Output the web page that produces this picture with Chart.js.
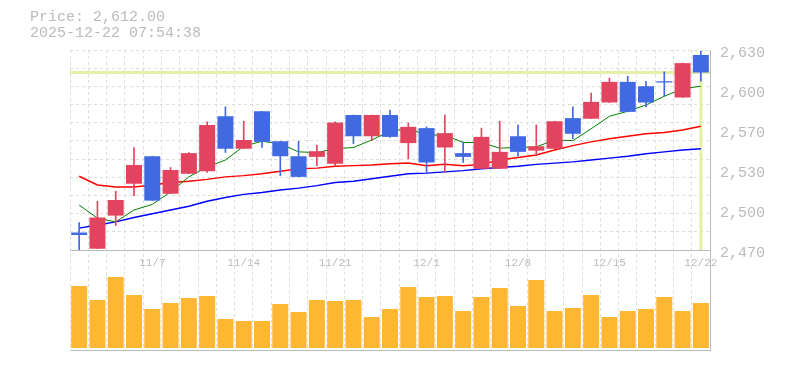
<!DOCTYPE html>
<html>
<head>
<meta charset="utf-8">
<script src="https://cdn.jsdelivr.net/npm/chart.js@4.4.0/dist/chart.umd.min.js"></script>
<style>
  html, body { margin: 0; padding: 0; background: #fff; }
  #wrap { position: relative; width: 785px; height: 370px; }
  #chart { position: absolute; left: 0; top: 0; }
  #info { position: absolute; left: 30px; top: 10px; font: 15px/16px "Liberation Mono", monospace; color: #bbb; white-space: pre; }
</style>
</head>
<body>
<div id="wrap">
  <canvas id="chart" width="785" height="370"></canvas>
  <div id="info">Price: 2,612.00
2025-12-22 07:54:38</div>
</div>
<script>
// daily candles, 10/31 - 12/22
const dates = ['10/31','11/4','11/5','11/6','11/7','11/10','11/11','11/12','11/13','11/14',
  '11/17','11/18','11/19','11/20','11/21','11/25','11/26','11/27','11/28','12/1',
  '12/2','12/3','12/4','12/5','12/8','12/9','12/10','12/11','12/12','12/15',
  '12/16','12/17','12/18','12/19','12/22'];
const opens  = [2484,2471,2497.5,2523,2545,2515,2531,2533,2577,2551,
  2581,2557,2545,2544.5,2539,2578,2561,2578,2555.5,2567.5,
  2552,2547.5,2535,2535,2561,2549.5,2551,2575.5,2575,2588,
  2604.5,2601,2605,2592,2626];
const highs  = [2492,2509,2517,2552,2545,2536,2548,2572.5,2584.5,2573,
  2581,2557,2557,2554,2572.5,2578,2578,2582,2571.5,2568.5,
  2578,2556.5,2567.5,2573,2570,2570,2573,2584.5,2595.5,2607.5,
  2609,2605,2612.5,2619.5,2629];
const lows   = [2470,2471,2489.5,2513.5,2509.5,2515,2531,2532,2548,2551,
  2552,2529.5,2528.5,2537.5,2537,2555,2557.5,2560,2543,2531,
  2532,2540,2535,2535,2545,2545.5,2551,2559,2575,2588,
  2580.5,2584.5,2593,2592,2605];
const closes = [2482,2496,2510,2538,2509.5,2534,2547.5,2570,2551,2558,
  2556.5,2545,2528.5,2549,2572,2561,2578,2560.5,2568.5,2540,
  2563.5,2544.5,2560.5,2548.5,2548.5,2553,2573,2563,2588.5,2604.5,
  2580.5,2588,2604,2619.5,2612];
const volumes = [620,480,710,530,390,450,500,520,290,270,
  270,440,360,480,470,480,310,390,610,510,
  520,370,510,600,420,680,370,400,530,310,
  370,390,510,370,450];
const ma5  = [2506,2495.5,2492.5,2502,2506.5,2516.5,2528.5,2536.5,2542,2553,
  2557,2555,2548.5,2548,2551,2552,2558,2565,2567,2562,
  2562,2556,2556,2551.5,2552,2552.5,2558,2557.5,2567,2577,
  2581,2586,2593,2599,2601];
const ma25 = [2529,2522,2520.5,2520.5,2522,2524,2525,2526.5,2528.5,2529.5,
  2531,2533,2535,2535.5,2537,2537.5,2538,2539,2539.5,2537.5,
  2538.5,2537.5,2538.5,2542,2544,2546,2550,2553.5,2556.5,2559,
  2561,2563,2564,2566,2569];
const ma75 = [2487.5,2490,2492.5,2496,2499,2502,2505,2509,2512,2514.5,
  2516,2518,2519.5,2521.5,2524,2525,2527,2529,2531,2531.5,
  2532.5,2533.5,2535,2536,2537,2538.5,2539.5,2540.5,2542,2543.5,
  2545,2547,2548.5,2550,2551];

const shownDates = ['11/7','11/14','11/21','12/1','12/8','12/15','12/22'];
const yTickValues = [2470,2502,2534,2566,2598,2630];
const yTickLabels = ['2,470','2,500','2,530','2,570','2,600','2,630'];
const yMin = 2470, yMax = 2630;
const lastPrice = 2612;

const gridRows = 11;
const monoFont = '"Liberation Mono", monospace';
const upColor = '#e2445f';
const downColor = '#4169e1';
const candleColors = closes.map((c, i) => c >= opens[i] ? upColor : downColor);

// yellow crosshair on the last price
const priceLine = {
  id: 'priceLine',
  beforeDatasetsDraw(chart) {
    const {ctx, chartArea, scales} = chart;
    const x = scales.x.getPixelForValue(dates.length - 1);
    const y = scales.y.getPixelForValue(lastPrice);
    ctx.save();
    ctx.strokeStyle = '#e4f0a6';
    ctx.lineWidth = 3;
    ctx.beginPath();
    ctx.moveTo(chartArea.left, y);
    ctx.lineTo(chartArea.right, y);
    ctx.moveTo(x, y);
    ctx.lineTo(x, scales.y.bottom);
    ctx.stroke();
    ctx.restore();
  }
};

const fixWidth = (scale) => { scale.width = 75; };

new Chart(document.getElementById('chart'), {
  type: 'bar',
  data: {
    labels: dates,
    datasets: [
      { type: 'bar', data: opens.map((o, i) => [o, closes[i]]), backgroundColor: candleColors,
        barPercentage: 0.875, categoryPercentage: 1, grouped: false, order: 0, xAxisID: 'x', yAxisID: 'y' },
      { type: 'bar', data: lows.map((l, i) => [l, highs[i]]), backgroundColor: candleColors,
        barThickness: 1, grouped: false, order: 1, xAxisID: 'x', yAxisID: 'y' },
      { type: 'line', data: ma5, borderColor: '#008000', borderWidth: 1, pointRadius: 0, order: 2, xAxisID: 'x', yAxisID: 'y' },
      { type: 'line', data: ma25, borderColor: '#ff0000', borderWidth: 1.5, pointRadius: 0, order: 2, xAxisID: 'x', yAxisID: 'y' },
      { type: 'line', data: ma75, borderColor: '#0000ff', borderWidth: 1.5, pointRadius: 0, order: 2, xAxisID: 'x', yAxisID: 'y' },
      { type: 'bar', data: volumes, backgroundColor: '#ffb733',
        barPercentage: 0.875, categoryPercentage: 1, grouped: false, order: 3, xAxisID: 'x', yAxisID: 'vol' }
    ]
  },
  options: {
    responsive: false,
    animation: false,
    events: [],
    layout: { padding: { left: 70, right: 0, top: 50, bottom: 20 } },
    plugins: { legend: { display: false }, tooltip: { enabled: false } },
    scales: {
      x: {
        type: 'category',
        position: { y: yMin },
        offset: true,
        grid: { offset: true, color: '#ddd', drawTicks: false },
        border: { color: '#bbb', dash: [3, 3] },
        ticks: {
          autoSkip: false, maxRotation: 0, padding: 6, color: '#bbb',
          font: { family: monoFont, size: 11 },
          callback: (v, i) => shownDates.includes(dates[i]) ? dates[i] : ''
        }
      },
      x2: {
        type: 'category',
        position: 'bottom',
        offset: true,
        grid: { display: false, drawTicks: false },
        ticks: { display: false },
        border: { color: '#bbb' }
      },
      y: {
        axis: 'y',
        position: 'right',
        stack: 'panes',
        stackWeight: 2,
        min: yMin,
        max: yMax,
        afterBuildTicks(scale) {
          const ticks = [];
          for (let k = 0; k <= gridRows; k++) {
            ticks.push({ value: yMin + (yMax - yMin) * k / gridRows, grid: true });
          }
          yTickValues.forEach(v => ticks.push({ value: v }));
          scale.ticks = ticks;
        },
        afterFit: fixWidth,
        grid: { color: c => (c.tick && c.tick.grid) ? '#ddd' : 'rgba(0,0,0,0)', drawTicks: false },
        border: { color: '#bbb', dash: [3, 3] },
        ticks: {
          autoSkip: false, padding: 10, labelOffset: 3, color: '#bbb',
          font: { family: monoFont, size: 15 },
          callback: (v, i) => i > gridRows ? yTickLabels[i - gridRows - 1] : ''
        }
      },
      vol: {
        axis: 'y',
        position: 'right',
        stack: 'panes',
        stackWeight: 1,
        min: -20,
        max: 980,
        afterFit: fixWidth,
        grid: { display: false, drawTicks: false },
        ticks: { display: false },
        border: { color: '#bbb' }
      }
    }
  },
  plugins: [priceLine]
});
</script>
</body>
</html>
